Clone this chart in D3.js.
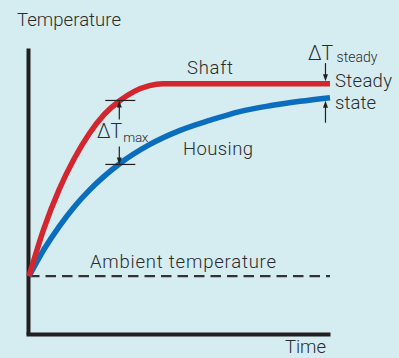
<!DOCTYPE html>
<html>
<head>
<meta charset="utf-8">
<script src="https://cdn.jsdelivr.net/npm/d3@7"></script>
<style>
  html, body { margin: 0; padding: 0; background: #d5ecf1; }
  svg { display: block; }
  text { font-family: Roboto, "Open Sans", sans-serif; font-weight: 300; fill: #2b2b2b; }
</style>
</head>
<body>
<svg id="chart" width="399" height="358"></svg>
<script>
// ---- data ----
const shaftTime = [0, 0.5, 1, 1.5, 2, 2.5, 3, 3.5, 4, 4.45, 6, 8, 10];
const shaftTemp = [0, 25, 45, 61, 74, 84, 91, 96, 99, 100, 100, 100, 100];
const housingTime = [0, 0.5, 1, 1.5, 2, 3, 4, 5, 6, 7, 8, 9, 10];
const housingTemp = [0, 14, 25.8, 36, 44.6, 58.3, 68.3, 75.6, 80.9, 85.5, 88.5, 90.8, 92.7];
const ambientTemp = 0;
const timeDomain = [0, 10];
const tempDomain = [-30, 118.5];
const maxDiffTime = 3;        // where ΔTmax is marked
const steadyTime = 9.85;      // where ΔT steady is marked
const labels = {
  yTitle: "Temperature", xTitle: "Time", ambient: "Ambient temperature",
  shaft: "Shaft", housing: "Housing", steady1: "Steady", steady2: "state",
  delta: "ΔT", max: "max", steadySub: "steady"
};

// ---- scales ----
const svg = d3.select("#chart");
const x = d3.scaleLinear().domain(timeDomain).range([29, 330]);
const y = d3.scaleLinear().domain(tempDomain).range([334, 48]);

const ink = "#231f20";
const red = "#d4262f";
const blue = "#0a6dbd";

// axes (no ticks)
const yAxis = d3.axisLeft(y).tickValues([]).tickSizeOuter(0);
svg.append("g").attr("transform", "translate(28,0)").call(yAxis)
  .select(".domain").attr("stroke", ink).attr("stroke-width", 4);
const xAxis = d3.axisBottom(d3.scaleLinear().domain(timeDomain).range([26, 330])).tickValues([]).tickSizeOuter(0);
svg.append("g").attr("transform", `translate(0,${y(tempDomain[0])})`).call(xAxis)
  .select(".domain").attr("stroke", ink).attr("stroke-width", 4);

// ambient dashed line
svg.append("line")
  .attr("x1", x(timeDomain[0])).attr("x2", x(timeDomain[1]))
  .attr("y1", y(ambientTemp)).attr("y2", y(ambientTemp))
  .attr("stroke", "#333").attr("stroke-width", 2.2)
  .attr("stroke-dasharray", "10.5,6");

// curves
const line = d3.line().x(d => x(d[0])).y(d => y(d[1])).curve(d3.curveMonotoneX);
svg.append("path").datum(housingTime.map((t, i) => [t, housingTemp[i]]))
  .attr("d", line).attr("fill", "none").attr("stroke", blue).attr("stroke-width", 5.5);
svg.append("path").datum(shaftTime.map((t, i) => [t, shaftTemp[i]]))
  .attr("d", line).attr("fill", "none").attr("stroke", red).attr("stroke-width", 5.5);

// helpers for annotation
function interp(ts, vs, t) {
  for (let i = 1; i < ts.length; i++) {
    if (t <= ts[i]) { const f = (t - ts[i-1]) / (ts[i] - ts[i-1]); return vs[i-1] + f * (vs[i] - vs[i-1]); }
  }
  return vs[vs.length - 1];
}
function arrow(xp, yFrom, yTip) {
  const dir = yTip > yFrom ? 1 : -1;
  svg.append("line").attr("x1", xp).attr("x2", xp).attr("y1", yFrom).attr("y2", yTip - dir * 5)
    .attr("stroke", ink).attr("stroke-width", 1.2);
  svg.append("path")
    .attr("d", `M${xp - 2.5},${yTip - dir * 7}L${xp + 2.5},${yTip - dir * 7}L${xp},${yTip}Z`)
    .attr("fill", ink);
}

// ΔTmax annotation
const xm = x(maxDiffTime);
const yRed = y(interp(shaftTime, shaftTemp, maxDiffTime)) - 0.5;
const yBlue = y(interp(housingTime, housingTemp, maxDiffTime)) + 0.5;
[yRed, yBlue].forEach(yy => svg.append("line").attr("x1", xm - 14).attr("x2", xm + 16)
  .attr("y1", yy).attr("y2", yy).attr("stroke", ink).attr("stroke-width", 1.2));
arrow(xm, yRed + 19, yRed);
arrow(xm, yBlue - 18, yBlue);

// ΔT steady annotation
const xs = x(steadyTime);
const ySRed = y(interp(shaftTime, shaftTemp, steadyTime)) - 2.5;
const ySBlue = y(interp(housingTime, housingTemp, steadyTime)) + 2.5;
arrow(xs, ySRed - 18, ySRed);
arrow(xs, ySBlue + 22, ySBlue);

// ---- texts ----
function txt(s, xp, yp, size, len) {
  const t = svg.append("text").attr("x", xp).attr("y", yp).attr("font-size", size).text(s);
  if (len) t.attr("textLength", len).attr("lengthAdjust", "spacing");
  return t;
}
txt(labels.yTitle, 17, 25.7, 18.5, 104);
txt(labels.xTitle, 285, 353, 18.5, 41);
txt(labels.ambient, 90, 268.3, 18.5, 186);
txt(labels.shaft, 187, 74, 18.5, 46);
txt(labels.housing, 183, 154.5, 18.5, 70);
txt(labels.steady1, 335, 86.7, 18.5, 57);
txt(labels.steady2, 335, 109, 18.5, 41);
txt(labels.delta, 97, 138.3, 19.5);
txt(labels.max, 123.3, 141.7, 13.5, 25);
txt(labels.delta, 308, 60, 19.5);
txt(labels.steadySub, 336.5, 61.5, 14, 41);
</script>
</body>
</html>
